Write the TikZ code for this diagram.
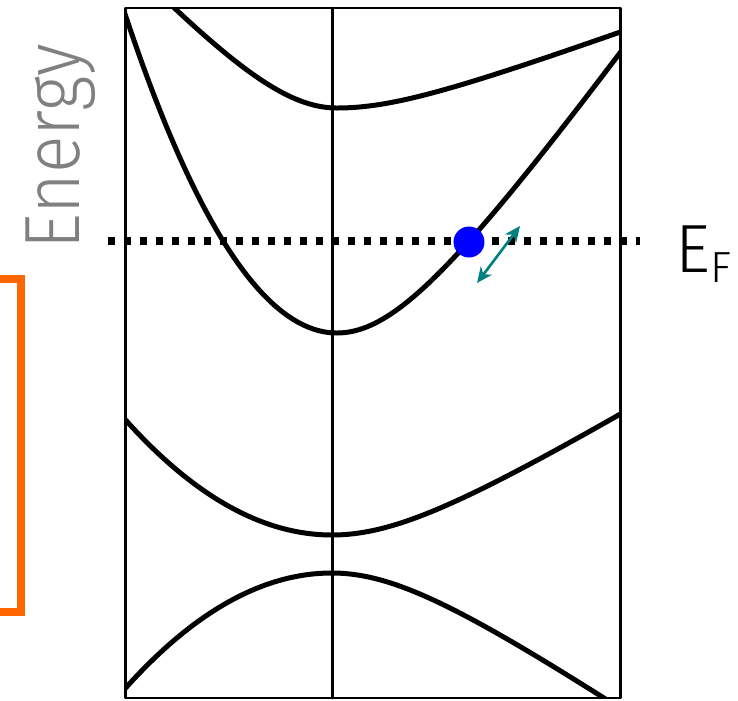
\documentclass[tikz,border=0pt]{standalone}
\usepackage{fontspec}
\usepackage{tkz-euclide}
\usetikzlibrary{arrows.meta,calc}
\newfontfamily\lightfont{Fira Sans Light}
\newfontfamily\narrowfont[FakeStretch=0.89]{Fira Sans Light}
\definecolor{ArrowClr}{rgb}{0,0.5,0.5}
\definecolor{GapClr}{rgb}{1,0.4,0}
\definecolor{LabelClr}{rgb}{0.5,0.5,0.5}

\begin{document}
\begin{tikzpicture}[scale=1]
\useasboundingbox (0,0) rectangle (7.38,7.00);
\tkzSetUpLine[line width=0.7pt,color=black]
\tikzset{band/.style={line width=1.42pt,samples=80}}

\tkzDefPoints{1.255/0.02/A,6.205/0.02/B,6.205/6.92/C,1.255/6.92/D}
\tkzDefPoints{3.323/0.02/G,3.323/6.92/H}
\tkzDefPoints{1.08/4.59/L,6.40/4.59/R}
\tkzDefPoints{4.69/4.58/K,4.77/4.17/P,5.20/4.74/Q}
\tkzDefPoints{-0.05/4.21/U,0.21/4.21/V,0.21/0.88/W,-0.05/0.88/Z}

\tkzDrawPolygon(A,B,C,D)
\tkzDrawSegment[line width=0.85pt](G,H)

\begin{scope}
\clip (A) rectangle (C);
% conduction bands
\draw[band] plot[domain=1.5:3.37] (\x,{5.92+1.1*(sqrt(1+(\x-3.37)^2)-1)})
  -- plot[domain=3.37:6.3] (\x,{5.92+0.33*(sqrt(1+((\x-3.37)/0.9)^2)-1)});
\draw[band] plot[domain=1.2:3.37] (\x,{3.67+0.71*(\x-3.37)^2})
  -- plot[domain=3.37:6.3] (\x,{3.67+1.4*(sqrt(1+(\x-3.37)^2)-1)});
\draw[band] plot[domain=1.2:3.32] (\x,{1.65+0.27*(\x-3.32)^2})
  -- plot[domain=3.32:6.3] (\x,{1.65+0.67*(sqrt(1+((\x-3.32)/1.1)^2)-1)});
% valence band
\draw[band] plot[domain=1.2:3.32] (\x,{1.27-0.27*(\x-3.32)^2})
  -- plot[domain=3.32:6.3] (\x,{1.27-0.75*(sqrt(1+((\x-3.32)/1.1)^2)-1)});
\end{scope}

\draw[line width=2pt,line cap=butt,dash pattern=on 2pt off 2.55pt] (L) -- (R);
\fill[blue] (K) circle (0.155);
\draw[ArrowClr,line width=0.75pt,{Stealth[length=4.5pt,width=4pt]}-{Stealth[length=4.5pt,width=4pt]}] (P) -- (Q);

\tkzDrawPolySeg[color=GapClr,line width=2.28pt](U,V,W,Z)

\node[LabelClr,rotate=90,anchor=base west,inner sep=0pt,font=\narrowfont\fontsize{22.3}{24}\selectfont] (energy) at (0.80,4.50) {Energy};
\node[anchor=base west,inner sep=0pt,font=\lightfont\fontsize{19.4}{21}\selectfont] (fermi) at (6.75,4.28) {E\raisebox{-3.1pt}{\fontsize{12.4}{13}\selectfont F}};

\end{tikzpicture}
\end{document}
